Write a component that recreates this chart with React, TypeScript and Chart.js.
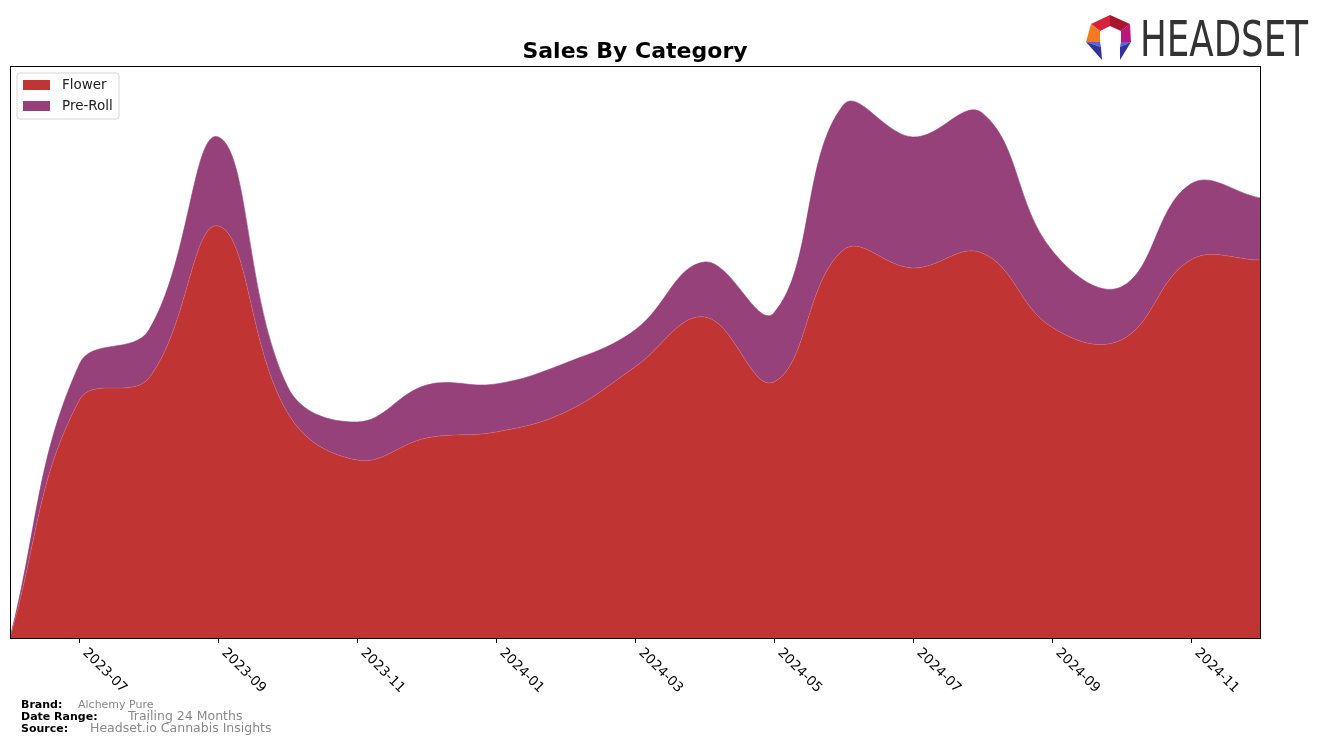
import React, { useEffect, useRef } from 'react';
import { Chart, registerables } from 'chart.js';

Chart.register(...registerables);

const months = [
  '2023-06', '2023-07', '2023-08', '2023-09', '2023-10', '2023-11', '2023-12',
  '2024-01', '2024-02', '2024-03', '2024-04', '2024-05', '2024-06', '2024-07',
  '2024-08', '2024-09', '2024-10', '2024-11', '2024-12',
];
const flowerSales = [0, 238, 260, 412, 225, 178, 200, 206, 226, 271, 321, 256, 388, 370, 385, 311, 298, 378, 378];
const preRollSales = [0, 36, 48, 89, 26, 38, 53, 48, 49, 37, 55, 69, 145, 131, 140, 77, 53, 76, 62];
const tickLabels = ['2023-07', '2023-09', '2023-11', '2024-01', '2024-03', '2024-05', '2024-07', '2024-09', '2024-11'];
const seriesNames = ['Flower', 'Pre-Roll'];
const seriesColors = ['#c03434', '#96417a'];

const FONT = '"DejaVu Sans", "Liberation Sans", sans-serif';

const decorPlugin = {
  id: 'decor',
  afterDraw(chart: any) {
    const ctx: CanvasRenderingContext2D = chart.ctx;
    const a = chart.chartArea;
    const xs = chart.scales.x;
    ctx.save();

    // frame
    ctx.strokeStyle = '#000';
    ctx.lineWidth = 1;
    ctx.strokeRect(Math.round(a.left) + 0.5, Math.round(a.top) + 0.5, Math.round(a.right - a.left), Math.round(a.bottom - a.top));

    // ticks & rotated labels
    ctx.font = `13.5px ${FONT}`;
    ctx.fillStyle = '#000';
    ctx.textAlign = 'left';
    ctx.textBaseline = 'top';
    tickLabels.forEach((lab) => {
      const idx = months.indexOf(lab);
      const x = Math.round(xs.getPixelForValue(idx)) + 0.5;
      ctx.beginPath();
      ctx.moveTo(x, a.bottom);
      ctx.lineTo(x, a.bottom + 5);
      ctx.stroke();
      ctx.save();
      ctx.translate(x + 10, a.bottom + 8);
      ctx.rotate(Math.PI / 4);
      ctx.fillText(lab, 0, 0);
      ctx.restore();
    });

    // title
    ctx.font = `bold 22px ${FONT}`;
    ctx.textAlign = 'center';
    ctx.textBaseline = 'alphabetic';
    ctx.fillText('Sales By Category', (a.left + a.right) / 2, 58);

    // legend
    const lx = 17, ly = 73, lw = 102, lh = 46, r = 3;
    ctx.beginPath();
    ctx.moveTo(lx + r, ly);
    ctx.lineTo(lx + lw - r, ly);
    ctx.quadraticCurveTo(lx + lw, ly, lx + lw, ly + r);
    ctx.lineTo(lx + lw, ly + lh - r);
    ctx.quadraticCurveTo(lx + lw, ly + lh, lx + lw - r, ly + lh);
    ctx.lineTo(lx + r, ly + lh);
    ctx.quadraticCurveTo(lx, ly + lh, lx, ly + lh - r);
    ctx.lineTo(lx, ly + r);
    ctx.quadraticCurveTo(lx, ly, lx + r, ly);
    ctx.closePath();
    ctx.fillStyle = 'rgba(255,255,255,0.85)';
    ctx.fill();
    ctx.strokeStyle = '#d6d6d6';
    ctx.stroke();
    ctx.font = `13.5px ${FONT}`;
    ctx.textAlign = 'left';
    ctx.textBaseline = 'middle';
    seriesNames.forEach((name, i) => {
      const cy = 85 + i * 21;
      ctx.fillStyle = seriesColors[i];
      ctx.fillRect(23, cy - 5, 27, 10);
      ctx.fillStyle = '#222';
      ctx.fillText(name, 62, cy);
    });

    // footer
    ctx.textBaseline = 'alphabetic';
    ctx.font = `bold 11px ${FONT}`;
    ctx.fillStyle = '#000';
    ctx.fillText('Brand:', 21, 708);
    ctx.fillText('Date Range:', 21, 720);
    ctx.fillText('Source:', 21, 732);
    ctx.fillStyle = '#888';
    ctx.font = `11px ${FONT}`;
    ctx.fillText('Alchemy Pure', 78, 708);
    ctx.font = `12.5px ${FONT}`;
    ctx.fillText('Trailing 24 Months', 128, 720);
    ctx.fillText('Headset.io Cannabis Insights', 90, 732);

    // logo icon
    const poly = (pts: number[][], color: string) => {
      ctx.beginPath();
      ctx.moveTo(pts[0][0], pts[0][1]);
      for (let i = 1; i < pts.length; i++) ctx.lineTo(pts[i][0], pts[i][1]);
      ctx.closePath();
      ctx.fillStyle = color;
      ctx.fill();
    };
    const T = [1110, 15], UR = [1130, 24], LR = [1131, 42], LL = [1086, 42], UL = [1091, 24];
    const t = [1110, 26], ur = [1121, 31], lr = [1121, 42], ll = [1100, 42], ul = [1100, 31];
    poly([UL, T, t, ul], '#d3243a');
    poly([T, UR, ur, t], '#a8162e');
    poly([UL, ul, ll, LL], '#f27a22');
    poly([UR, LR, lr, ur], '#b8187e');
    poly([LL, ll, [1101, 47]], '#6060dc');
    poly([LL, [1101, 47], [1102, 60]], '#33339a');
    poly([lr, LR, [1120, 47]], '#6060dc');
    poly([[1120, 47], LR, [1120, 60]], '#33339a');

    // logo text
    ctx.font = `50px ${FONT}`;
    ctx.fillStyle = '#333';
    ctx.textAlign = 'left';
    ctx.textBaseline = 'alphabetic';
    const w = ctx.measureText('HEADSET').width;
    ctx.save();
    ctx.translate(1140, 56);
    ctx.scale(168 / w, 1);
    ctx.fillText('HEADSET', 0, 0);
    ctx.restore();

    ctx.restore();
  },
};

export default function App() {
  const ref = useRef<HTMLCanvasElement | null>(null);
  useEffect(() => {
    if (!ref.current) return;
    const chart = new Chart(ref.current, {
      type: 'line',
      data: {
        labels: months,
        datasets: [
          {
            label: seriesNames[0],
            data: flowerSales,
            backgroundColor: seriesColors[0],
            borderColor: 'rgba(200,110,130,0.8)',
            borderWidth: 0.6,
            fill: 'origin',
            pointRadius: 0,
            tension: 0.4,
          },
          {
            label: seriesNames[1],
            data: preRollSales,
            backgroundColor: seriesColors[1],
            borderColor: seriesColors[1],
            borderWidth: 0.6,
            fill: '-1',
            pointRadius: 0,
            tension: 0.4,
          },
        ],
      },
      options: {
        animation: false,
        responsive: false,
        events: [],
        layout: { padding: { left: 10, top: 66, right: 64, bottom: 107 } },
        plugins: { legend: { display: false }, title: { display: false }, tooltip: { enabled: false } },
        scales: {
          x: { type: 'category', display: false, offset: false },
          y: { display: false, stacked: true, min: 0, max: 572 },
        },
      },
      plugins: [decorPlugin],
    });
    return () => chart.destroy();
  }, []);
  return (
    <div style={{ position: 'fixed', left: 0, top: 0, width: 1324, height: 745, background: '#fff' }}>
      <canvas ref={ref} width={1324} height={745} style={{ width: 1324, height: 745, display: 'block' }} />
    </div>
  );
}
